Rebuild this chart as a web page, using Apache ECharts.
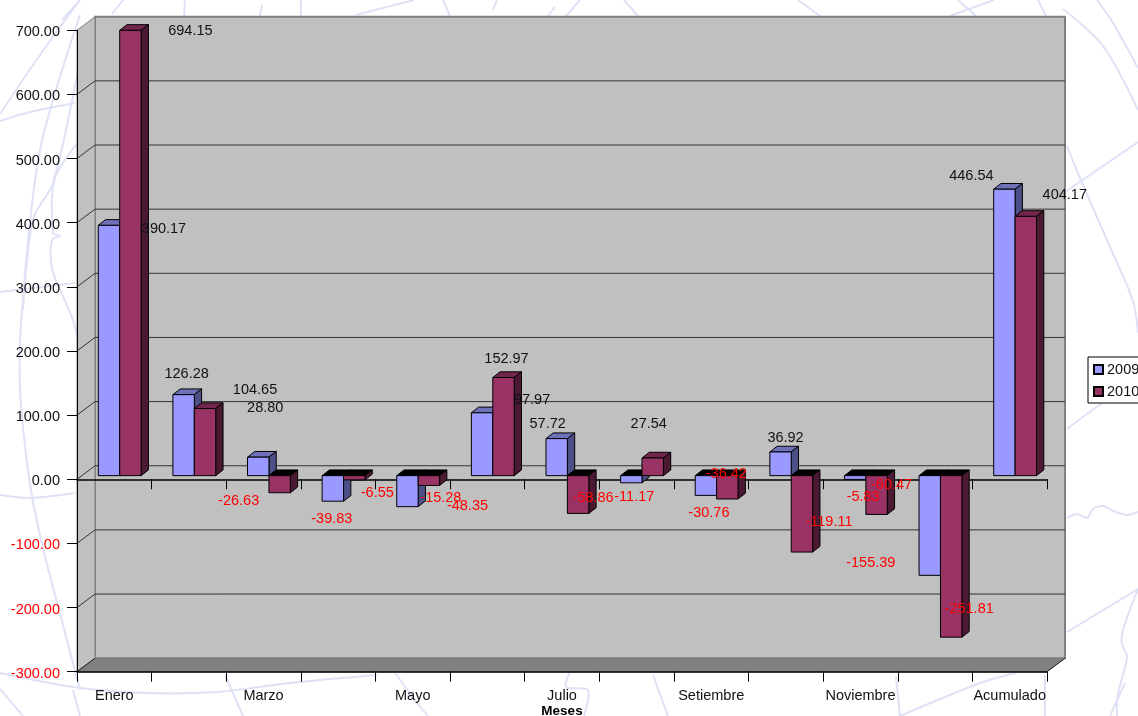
<!DOCTYPE html>
<html><head><meta charset="utf-8">
<style>html,body{margin:0;padding:0;background:#fff;overflow:hidden}#c{width:1138px;height:716px}</style>
<script src="https://cdn.jsdelivr.net/npm/echarts@6/dist/echarts.min.js"></script>
</head><body><div id="c"></div>
<script>
const categories = ['Enero','Febrero','Marzo','Abril','Mayo','Junio','Julio','Agosto','Setiembre','Octubre','Noviembre','Diciembre','Acumulado'];
const values2009 = [390.17,126.28,28.80,-39.83,-48.35,97.97,57.72,-11.17,-30.76,36.92,-5.83,-155.39,446.54];
const values2010 = [694.15,104.65,-26.63,-6.55,-15.28,152.97,-58.86,27.54,-36.42,-119.11,-60.47,-251.81,404.17];
const yTicks = [-200,-100,0,100,200,300,400,500,600];
// hand-placed label nudges of the original, relative to each bar's end
const nudge2009 = [[55,4],[3,-21],[7,-49],[-1,18],[60,-1],[50,-13],[-9,-15],[3,14],[3,18],[5,-14],[8,18],[-59,-12],[-33,-13]];
const nudge2010 = [[60,1],[50,-19],[-41,8],[23,13],[12,12.5],[3,-19],[15,-15],[-4,-34],[-1,-25],[27,-30],[15,-29],[18,-28],[39,-21]];
// faint decorative map watermark behind the chart
const watermark = [
  [[0,121],[30,112],[75,103]],
  [[0,114],[40,55],[80,0]],
  [[80,15],[40,150],[22,310],[20,388],[30,484],[43,548],[63,625],[80,690]],
  [[80,60],[53,183],[33,219],[23,310]],
  [[80,140],[55,178],[53,233],[60,236],[52,240],[52,269],[73,320],[80,352]],
  [[0,292],[75,283]],
  [[0,495],[30,498],[75,493]],
  [[0,673],[73,687],[145,693],[218,692],[290,683],[377,675]],
  [[0,689],[23,716]],
  [[225,675],[243,716]],
  [[395,673],[417,703],[428,716]],
  [[570,672],[566,687],[588,690],[584,716]],
  [[653,675],[668,716]],
  [[900,716],[980,683],[1016,673]],
  [[896,677],[900,716]],
  [[1045,675],[1045,716]],
  [[1110,716],[1125,683]],
  [[80,716],[73,690]],
  [[80,0],[62,20]],[[123,0],[112,14]],[[185,0],[184,16]],[[262,5],[260,16]],[[301,0],[301,16]],
  [[356,15],[414,0]],[[443,0],[450,16]],[[497,0],[493,10]],[[566,16],[580,0]],[[548,16],[555,7]],
  [[624,0],[638,16]],[[798,0],[820,16]],[[950,16],[994,0]],[[958,0],[976,16]],[[1038,0],[1046,16]],
  [[1063,9],[1103,46],[1138,110]],
  [[1097,0],[1113,23],[1138,68]],
  [[1065,192],[1138,142]],
  [[1067,146],[1080,178],[1110,247],[1133,301],[1138,333]],
  [[1067,429],[1107,400],[1138,385]],
  [[1067,518],[1077,514],[1087,518],[1093,509],[1103,506],[1113,511],[1127,515],[1138,512]],
  [[1067,632],[1138,589]],
  [[1138,589],[1123,630],[1122,644],[1127,657],[1118,694],[1117,716]]
];

const FONT = '"Liberation Sans", Arial, sans-serif';
const WALL_DX = 18, WALL_DY = -13.5;      // depth of the box
const BAR_DX = 7.3, BAR_DY = -5.7;        // depth of a bar
const ROW_DX = 5.4, ROW_DY = -3.6;        // front of bars inside the box
const BAR_FRAC = 0.287;

function pts(a){return {points:a};}
function renderWalls(params, api){
  const g = params.coordSys, x0=g.x, x1=g.x+g.width, y0=g.y, y1=g.y+g.height;
  const dx=WALL_DX, dy=WALL_DY;
  return {type:'group',children:[
    {type:'rect',shape:{x:x0+dx,y:y0+dy,width:g.width,height:g.height},style:{fill:'#c0c0c0',stroke:'#808080',lineWidth:2}},
    {type:'polygon',shape:pts([[x0,y0],[x0+dx,y0+dy],[x0+dx,y1+dy],[x0,y1]]),style:{fill:'#c0c0c0',stroke:'#808080',lineWidth:1}},
    {type:'polygon',shape:pts([[x0,y1],[x1,y1],[x1+dx,y1+dy],[x0+dx,y1+dy]]),style:{fill:'#808080',stroke:'#808080',lineWidth:1}},
    {type:'line',shape:{x1:x0,y1:y1,x2:x0+dx,y2:y1+dy},style:{stroke:'#222',lineWidth:1}},
    {type:'line',shape:{x1:x1,y1:y1,x2:x1+dx,y2:y1+dy},style:{stroke:'#222',lineWidth:1}}
  ]};
}
function renderGrid(params, api){
  const g = params.coordSys;
  const y = api.coord([0, api.value(0)])[1];
  return {type:'polyline',shape:pts([[g.x,y],[g.x+WALL_DX,y+WALL_DY],[g.x+g.width+WALL_DX,y+WALL_DY]]),
    style:{fill:null,stroke:'#333',lineWidth:1}};
}
function makeBars(offset, front, top, side){
  return function(params, api){
    const i=api.value(0), v=api.value(1);
    const band=api.size([1,0])[0], w=band*BAR_FRAC;
    const p=api.coord([i,v]), z=api.coord([i,0]);
    const xl=p[0]+ROW_DX+offset*w-w/2, xr=xl+w;
    const yb=z[1]+ROW_DY, ye=p[1]+ROW_DY;
    const ytop=Math.min(yb,ye), ybot=Math.max(yb,ye);
    const line={stroke:'#000',lineWidth:1};
    return {type:'group',children:[
      {type:'polygon',shape:pts([[xl,ytop],[xr,ytop],[xr+BAR_DX,ytop+BAR_DY],[xl+BAR_DX,ytop+BAR_DY]]),
        style:Object.assign({fill:v<0?'#000':top},line)},
      {type:'polygon',shape:pts([[xr,ytop],[xr+BAR_DX,ytop+BAR_DY],[xr+BAR_DX,ybot+BAR_DY],[xr,ybot]]),
        style:Object.assign({fill:side},line)},
      {type:'rect',shape:{x:xl,y:ytop,width:w,height:ybot-ytop},style:Object.assign({fill:front},line)}
    ]};
  };
}
function makeLabels(offset, nudges){
  return function(params, api){
    const i=api.value(0), v=api.value(1);
    const band=api.size([1,0])[0], w=band*BAR_FRAC;
    const p=api.coord([i,v]);
    const n=nudges[params.dataIndex];
    return {type:'text',style:{
      x:p[0]+ROW_DX+offset*w+n[0], y:p[1]+ROW_DY+n[1],
      text:v.toFixed(2), fill:v<0?'#ff0000':'#111', font:'14.5px '+FONT, align:'center', verticalAlign:'middle'}};
  };
}
const pairs = a => a.map((v,i)=>[i,v]);
const base = {type:'custom',coordinateSystem:'cartesian2d',xAxisIndex:0,yAxisIndex:0,clip:false,silent:true,encode:{x:0,y:1}};

const option = {
  animation:false,
  backgroundColor:'#fff',
  textStyle:{fontFamily:FONT},
  graphic:{elements:watermark.map(p=>({type:'polyline',z:-5,silent:true,shape:{points:p,smooth:p.length>2?0.3:0},
    style:{fill:null,stroke:'#dfe2f6',lineWidth:2}}))},
  grid:{left:77,right:91,top:30.2,bottom:44.3,containLabel:false,outerBoundsMode:'none'},
  legend:{
    orient:'vertical',left:1088,top:357,padding:[5,6,4,5],itemGap:7,itemWidth:9,itemHeight:9,
    backgroundColor:'#fff',borderColor:'#000',borderWidth:1,
    textStyle:{fontFamily:FONT,fontSize:14.5,color:'#111',padding:[0,0,0,-1]},
    data:[{name:'2009',icon:'rect'},{name:'2010',icon:'rect'}]
  },
  xAxis:[
    {type:'category',data:categories,position:'bottom',z:1,
     axisLine:{onZero:false,lineStyle:{color:'#000',width:1.5}},
     axisTick:{show:true,interval:0,length:10,lineStyle:{color:'#000',width:1}},
     axisLabel:{interval:1,margin:17,color:'#111',fontFamily:FONT,fontSize:14.5},
     name:'Meses',nameLocation:'middle',nameGap:33,nameMoveOverlap:false,
     nameTextStyle:{fontFamily:FONT,fontSize:13.5,fontWeight:'bold',color:'#000'},
     splitLine:{show:false}},
    {type:'category',data:categories,position:'bottom',z:1,
     axisLine:{onZero:true,lineStyle:{color:'#000',width:1.5}},
     axisTick:{show:true,interval:0,length:10,lineStyle:{color:'#000',width:1}},
     axisLabel:{show:false},splitLine:{show:false}}
  ],
  yAxis:{type:'value',min:-300,max:700,interval:100,z:1,
    axisLine:{show:true,onZero:false,lineStyle:{color:'#000',width:1}},
    axisTick:{show:true,length:10,lineStyle:{color:'#000',width:1}},
    splitLine:{show:false},
    axisLabel:{margin:17,
      formatter:v=>(v<0?'{n|':'{p|')+v.toFixed(2)+'}',
      rich:{
        p:{fontFamily:FONT,fontSize:14.5,color:'#111',padding:[4,0,0,0]},
        n:{fontFamily:FONT,fontSize:14.5,color:'#ff0000',padding:[4,0,0,0]}
      }}},
  series:[
    Object.assign({},base,{name:'walls',z:-2,data:[[0,0]],renderItem:renderWalls}),
    Object.assign({},base,{name:'gridlines',z:-1,data:yTicks.map(v=>[v]),encode:{},renderItem:renderGrid}),
    Object.assign({},base,{name:'2009',z:2,data:pairs(values2009),itemStyle:{color:'#9999ff',borderColor:'#000',borderWidth:1},
      renderItem:makeBars(-0.5,'#9999ff','#6e70b8','#4d5086')}),
    Object.assign({},base,{name:'2010',z:3,data:pairs(values2010),itemStyle:{color:'#993366',borderColor:'#000',borderWidth:1},
      renderItem:makeBars(0.5,'#993366','#73264d','#4c1933')}),
    Object.assign({},base,{name:'labels2009',z:4,data:pairs(values2009),renderItem:makeLabels(-0.5,nudge2009)}),
    Object.assign({},base,{name:'labels2010',z:4,data:pairs(values2010),renderItem:makeLabels(0.5,nudge2010)})
  ]
};
echarts.init(document.getElementById('c'),null,{renderer:'canvas'}).setOption(option);
</script></body></html>
